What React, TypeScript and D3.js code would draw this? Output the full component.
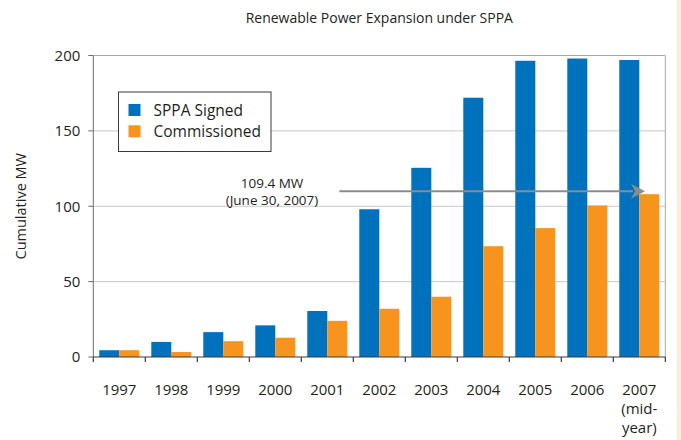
import { useEffect, useRef } from 'react'
import * as d3 from 'd3'

// chart data
const years = ['1997', '1998', '1999', '2000', '2001', '2002', '2003', '2004', '2005', '2006', '2007']
const seriesNames = ['SPPA Signed', 'Commissioned']
const signed = [4.5, 10, 16.5, 21, 30.5, 98, 125.5, 172, 196.5, 198, 197]
const commissioned = [4.5, 3.3, 10.5, 12.8, 24, 32, 40, 73.5, 85.5, 100.5, 108]
const yTicks = [0, 50, 100, 150, 200]
const annotationLines = ['109.4 MW', '(June 30, 2007)']
const annotationValue = 110
const lastLabelExtra = ['(mid-', 'year)']

const colors = ['#0071bc', '#f7941e']
const font = '"Open Sans", "Noto Sans", sans-serif'

export default function App() {
  const ref = useRef<SVGSVGElement>(null)

  useEffect(() => {
    document.body.style.margin = '0'
    const width = 681
    const height = 440
    const margin = { top: 55.5, right: 15.7, bottom: 83, left: 93.3 }

    const svg = d3.select(ref.current)
    svg.selectAll('*').remove()
    svg.attr('width', width).attr('height', height).attr('viewBox', [0, 0, width, height])
      .style('display', 'block').style('font-family', font)

    svg.append('rect').attr('width', width).attr('height', height).attr('fill', '#fff')
    // beige strip on the right edge
    svg.append('rect').attr('x', 676.5).attr('y', 0).attr('width', width - 676.5).attr('height', height).attr('fill', '#fdecda')

    const x0 = d3.scaleBand().domain(years).range([margin.left, width - margin.right]).padding(0)
    const x1 = d3.scaleBand().domain(seriesNames).range([6, x0.bandwidth() - 6]).padding(0)
    const y = d3.scaleLinear().domain([0, 200]).range([height - margin.bottom, margin.top])

    const left = margin.left
    const right = width - margin.right
    const bottom = y(0)
    const top = y(200)

    // gridlines
    svg.append('g').selectAll('line').data(yTicks.filter(d => d > 0 && d < 200)).join('line')
      .attr('x1', left).attr('x2', right).attr('y1', d => y(d)).attr('y2', d => y(d))
      .attr('stroke', '#c8c8c8').attr('stroke-width', 1)

    // frame top + right
    svg.append('path').attr('d', `M${left},${top}H${right}V${bottom}`)
      .attr('fill', 'none').attr('stroke', '#a9a9a9').attr('stroke-width', 1)

    // bars
    const rows = years.map((yr, i) => ({ yr, vals: [signed[i], commissioned[i]] }))
    svg.append('g').selectAll('g').data(rows).join('g')
      .attr('transform', d => `translate(${x0(d.yr)},0)`)
      .selectAll('rect').data(d => d.vals.map((v, k) => ({ v, k }))).join('rect')
      .attr('x', d => x1(seriesNames[d.k])!)
      .attr('width', x1.bandwidth())
      .attr('y', d => y(d.v))
      .attr('height', d => bottom - y(d.v))
      .attr('fill', d => colors[d.k])

    // left axis
    svg.append('line').attr('x1', left).attr('x2', left).attr('y1', top).attr('y2', bottom)
      .attr('stroke', '#6d6d6d').attr('stroke-width', 1)
    const yAxis = svg.append('g')
    yAxis.selectAll('line').data(yTicks).join('line')
      .attr('x1', left - 5).attr('x2', left).attr('y1', d => y(d)).attr('y2', d => y(d))
      .attr('stroke', '#6d6d6d')
    yAxis.selectAll('text').data(yTicks).join('text')
      .attr('x', left - 13).attr('y', d => y(d)).attr('dy', '0.36em')
      .attr('text-anchor', 'end').attr('font-size', 15).attr('fill', '#231f20')
      .text(d => d)

    // bottom axis
    svg.append('line').attr('x1', left).attr('x2', right).attr('y1', bottom).attr('y2', bottom)
      .attr('stroke', '#3a3a3a').attr('stroke-width', 1.2)
    const boundaries = [...years.map(d => x0(d)!), right]
    svg.append('g').selectAll('line').data(boundaries).join('line')
      .attr('x1', d => d).attr('x2', d => d).attr('y1', bottom).attr('y2', bottom + 5)
      .attr('stroke', '#3a3a3a').attr('stroke-width', 1.2)
    svg.append('g').selectAll('text').data(years).join('text')
      .attr('x', d => x0(d)! + x0.bandwidth() / 2).attr('y', 395)
      .attr('text-anchor', 'middle').attr('font-size', 15).attr('fill', '#231f20')
      .text(d => d)
    const lastYear = years[years.length - 1]
    svg.append('g').selectAll('text').data(lastLabelExtra).join('text')
      .attr('x', x0(lastYear)! + x0.bandwidth() / 2).attr('y', (d, i) => 395 + 19 * (i + 1))
      .attr('text-anchor', 'middle').attr('font-size', 15).attr('fill', '#231f20')
      .text(d => d)

    // y axis title
    svg.append('text')
      .attr('transform', `translate(26,${(top + bottom) / 2}) rotate(-90)`)
      .attr('text-anchor', 'middle').attr('font-size', 14.5).attr('fill', '#231f20')
      .text('Cumulative MW')

    // title
    svg.append('text').attr('x', (left + right) / 2).attr('y', 23)
      .attr('text-anchor', 'middle').attr('font-size', 14).attr('fill', '#231f20')
      .text('Renewable Power Expansion under SPPA')

    // legend
    const lg = svg.append('g').attr('transform', 'translate(118.5,92)')
    lg.append('rect').attr('width', 152.5).attr('height', 59.5)
      .attr('fill', '#fff').attr('stroke', '#3a3a3a').attr('stroke-width', 1)
    seriesNames.forEach((name, i) => {
      lg.append('rect').attr('x', 10).attr('y', 12 + i * 21.3).attr('width', 12).attr('height', 12).attr('fill', colors[i])
      lg.append('text').attr('x', 35).attr('y', 24 + i * 21.3)
        .attr('font-size', 15.5).attr('fill', '#231f20').text(name)
    })

    // annotation arrow
    const ay = y(annotationValue)
    const ax0 = x0('2002')! - 14
    const ax1 = x0(lastYear)! + x0.bandwidth() * 0.61
    svg.append('line').attr('x1', ax0).attr('x2', ax1 - 12).attr('y1', ay).attr('y2', ay)
      .attr('stroke', '#8c8c8c').attr('stroke-width', 2)
    svg.append('path').attr('d', `M${ax1},${ay}L${ax1 - 14},${ay - 7.5}L${ax1 - 10},${ay}L${ax1 - 14},${ay + 7.5}Z`)
      .attr('fill', '#8c8c8c')
    svg.append('g').selectAll('text').data(annotationLines).join('text')
      .attr('x', 272).attr('y', (d, i) => 187.5 + i * 17.5)
      .attr('text-anchor', 'middle').attr('font-size', 13.5).attr('fill', '#231f20')
      .text(d => d)
  }, [])

  return <svg ref={ref} />
}
